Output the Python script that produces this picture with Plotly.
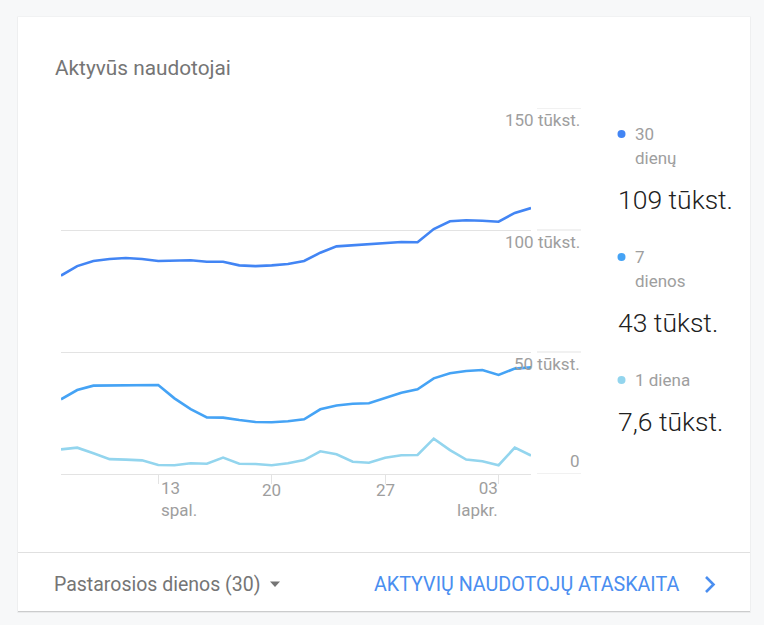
import pandas as pd
import plotly.graph_objects as go

# ---------------- data ----------------
dates = pd.date_range("2019-10-07", periods=30, freq="D")

users_30d = [81.3, 85.2, 87.3, 88.1, 88.5, 88.1, 87.3, 87.6, 87.6, 87.0,
             87.0, 85.5, 85.2, 85.5, 86.1, 87.3, 90.7, 93.3, 93.7, 94.1,
             94.4, 95.1, 95.0, 100.4, 103.6, 104.0, 103.8, 103.4, 107.0, 109.0]
users_7d = [30.6, 34.4, 36.2, 36.2, 36.5, 36.5, 36.5, 31.0, 26.6, 23.2,
            23.1, 22.1, 21.3, 21.2, 21.6, 22.4, 26.5, 28.1, 28.8, 29.0,
            31.0, 33.3, 34.7, 39.2, 41.3, 42.2, 42.6, 40.6, 43.2, 43.7]
users_1d = [10.1, 10.8, 8.5, 6.1, 5.9, 5.6, 3.7, 3.6, 4.4, 4.2,
            6.7, 4.2, 4.1, 3.6, 4.4, 5.7, 9.3, 8.1, 5.0, 4.6,
            6.7, 7.7, 7.8, 14.5, 9.8, 5.9, 5.2, 3.6, 10.8, 7.6]

series_names = ["30 dienų", "7 dienos", "1 diena"]
series_label_lines = [["30", "dienų"], ["7", "dienos"], ["1 diena"]]
series_totals = ["109 tūkst.", "43 tūkst.", "7,6 tūkst."]
series_colors = ["#4285F4", "#45A3F5", "#93D5EE"]

y_tick_vals = [0, 50, 100, 150]
y_tick_labels = ["0", "50 tūkst.", "100 tūkst.", "150 tūkst."]

x_tick_dates = ["2019-10-13", "2019-10-20", "2019-10-27", "2019-11-03"]
x_tick_days = ["13", "20", "27", "03"]
x_tick_months = ["spal.", "", "", "lapkr."]

title_text = "Aktyvūs naudotojai"
footer_left = "Pastarosios dienos (30)"
footer_right = "AKTYVIŲ NAUDOTOJŲ ATASKAITA"

# ---------------- layout helpers ----------------
W, H = 764, 625
def px(x):
    return x / W
def py(y):
    return 1 - y / H

FONT = "Roboto, Arial, sans-serif"
GRID = "#e3e3e3"
GRAY = "#757575"
AXGRAY = "#9e9e9e"
LINK = "#4a8ef0"

fig = go.Figure()
for vals, name, col in zip([users_30d, users_7d, users_1d], series_names, series_colors):
    fig.add_trace(go.Scatter(x=dates, y=vals, name=name, mode="lines",
                             line=dict(color=col, width=2.6), hoverinfo="skip"))

shapes = []
# card shadow + card
shapes.append(dict(type="rect", xref="paper", yref="paper", layer="below",
                   x0=px(17.3), x1=px(750.7), y0=py(613), y1=py(16.5),
                   fillcolor="rgba(0,0,0,0.05)", line=dict(width=0)))
shapes.append(dict(type="rect", xref="paper", yref="paper", layer="below",
                   x0=px(18), x1=px(750), y0=py(612), y1=py(17),
                   fillcolor="rgba(0,0,0,0.13)", line=dict(width=0)))
shapes.append(dict(type="rect", xref="paper", yref="paper", layer="below",
                   x0=px(18), x1=px(750), y0=py(611), y1=py(17),
                   fillcolor="#ffffff", line=dict(width=0)))
# divider
shapes.append(dict(type="line", xref="paper", yref="paper", layer="below",
                   x0=px(18), x1=px(750), y0=py(552.5), y1=py(552.5),
                   line=dict(color="#e0e0e0", width=1)))
# short grid segments behind the value labels
for v in y_tick_vals:
    shapes.append(dict(type="line", xref="paper", yref="y", layer="below",
                       x0=px(537), x1=px(581), y0=v, y1=v,
                       line=dict(color=GRID, width=1)))
# legend dots
dot_y = [134, 257, 380]
for cy, col in zip(dot_y, series_colors):
    shapes.append(dict(type="circle", xref="paper", yref="paper",
                       x0=px(617.5), x1=px(625.5), y0=py(cy + 4), y1=py(cy - 4),
                       fillcolor=col, line=dict(width=0)))
# dropdown triangle
shapes.append(dict(type="path", xref="paper", yref="paper",
                   path=f"M {px(270)} {py(581.5)} L {px(280)} {py(581.5)} L {px(275)} {py(587)} Z",
                   fillcolor=GRAY, line=dict(width=0)))
# chevron
shapes.append(dict(type="path", xref="paper", yref="paper",
                   path=f"M {px(706)} {py(577)} L {px(713.5)} {py(584.5)} L {px(706)} {py(592)}",
                   line=dict(color=LINK, width=2.6)))

ann = []
ann.append(dict(text=title_text, xref="paper", yref="paper", x=px(53), y=py(68),
                xanchor="left", yanchor="middle", showarrow=False,
                font=dict(family=FONT, size=20.8, color=GRAY)))
# y labels
for v, lab in zip(y_tick_vals, y_tick_labels):
    ann.append(dict(text=lab, xref="paper", yref="y", x=px(582), y=v,
                    xanchor="right", yanchor="middle", showarrow=False,
                    yshift=13 if v == 0 else -12,
                    font=dict(family=FONT, size=17, color=AXGRAY)))
# x labels
n = len(x_tick_dates)
for i, (d, day, mon) in enumerate(zip(x_tick_dates, x_tick_days, x_tick_months)):
    anchor = "left" if i == 0 else ("right" if i == n - 1 else "center")
    xs = 1 if i == 0 else (1 if i == n - 1 else 0)
    txt = day + ("<br>" + mon if mon else "")
    yc = 499 if mon else 490
    ann.append(dict(text=txt, xref="x", yref="paper", x=d, y=py(yc),
                    xanchor=anchor, yanchor="middle", align=anchor if anchor != "center" else "center",
                    showarrow=False, xshift=xs,
                    font=dict(family=FONT, size=17, color=AXGRAY)))
# legend texts
label_y = [[134, 158], [257, 281], [380]]
total_y = [199, 322, 421]
for lines, ys, tot, ty in zip(series_label_lines, label_y, series_totals, total_y):
    for t, yy in zip(lines, ys):
        ann.append(dict(text=t, xref="paper", yref="paper", x=px(633), y=py(yy),
                        xanchor="left", yanchor="middle", showarrow=False,
                        font=dict(family=FONT, size=17, color=AXGRAY)))
    ann.append(dict(text=tot, xref="paper", yref="paper", x=px(616), y=py(ty),
                    xanchor="left", yanchor="middle", showarrow=False,
                    font=dict(family=FONT, size=26.5, color="#212121", weight=300)))
# footer
ann.append(dict(text=footer_left, xref="paper", yref="paper", x=px(52), y=py(584),
                xanchor="left", yanchor="middle", showarrow=False,
                font=dict(family=FONT, size=19.5, color=GRAY)))
ann.append(dict(text=footer_right, xref="paper", yref="paper", x=px(372), y=py(584),
                xanchor="left", yanchor="middle", showarrow=False,
                font=dict(family=FONT, size=19.7, color=LINK)))

fig.update_layout(
    width=W, height=H,
    margin=dict(l=0, r=0, t=0, b=0, pad=0),
    paper_bgcolor="#f7f8f9", plot_bgcolor="rgba(0,0,0,0)",
    showlegend=False,
    shapes=shapes, annotations=ann,
    xaxis=dict(domain=[px(61), px(531)], type="date",
               range=[dates[0], dates[-1]],
               tickvals=x_tick_dates, showticklabels=False,
               ticks="outside", ticklen=9, tickcolor=GRID, tickwidth=1,
               showgrid=False, zeroline=False,
               showline=True, linecolor=GRID, linewidth=1),
    yaxis=dict(domain=[py(474), py(108)], range=[0, 150],
               tickvals=y_tick_vals, showticklabels=False,
               showgrid=True, gridcolor=GRID, gridwidth=1, zeroline=False),
)

fig.write_html("out.html", config={"displayModeBar": False},
               post_script="document.body.style.margin='0';document.body.style.overflow='hidden';")
